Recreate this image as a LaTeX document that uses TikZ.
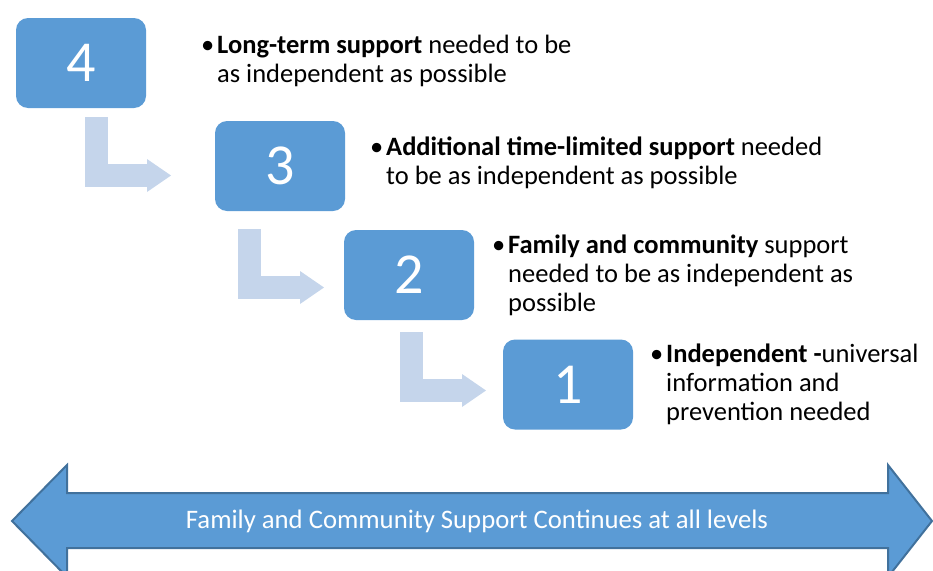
\documentclass[tikz,border=0pt]{standalone}
\usepackage{fontspec}
\setmainfont{Carlito}
\usetikzlibrary{arrows.meta, positioning}
\definecolor{boxblue}{HTML}{5B9BD5}
\definecolor{edgeblue}{HTML}{41719C}
\definecolor{paleblue}{HTML}{C5D5EB}

\begin{document}
\begin{tikzpicture}[x=1pt, y=-1pt, level/.style={rectangle, rounded corners=12pt, fill=boxblue, text=white, minimum width=130pt, minimum height=90pt, inner sep=0pt, font=\fontsize{58}{60}\selectfont}, desc/.style={anchor=north west, inner sep=0pt, align=left, font=\fontsize{26.5}{29}\selectfont}, bendarrow/.style={draw=paleblue, line width=23pt, -{Triangle[length=24pt, width=33pt, line width=0pt]}}, banner/.style={fill=boxblue, draw=edgeblue, line width=2pt}]
        \useasboundingbox (0,0) rectangle (933,570);
        \clip (0,0) rectangle (933,570);
        % the four levels
        \node[level] (b4) at (81,63) {4};
        \node[level] (b3) at (280,166) {3};
        \node[level] (b2) at (409,275) {2};
        \node[level] (b1) at (568,384.5) {1};
        % steps down from one level to the next
        \coordinate (s4) at (96.5,117);
        \coordinate (e3) at (171,175.5);
        \coordinate (s3) at (249.5,229);
        \coordinate (e2) at (324,287.5);
        \coordinate (s2) at (411.5,332);
        \coordinate (e1) at (486,390.5);
        \draw[bendarrow] (s4) |- (e3);
        \draw[bendarrow] (s3) |- (e2);
        \draw[bendarrow] (s2) |- (e1);
        % descriptions
        \node[desc] (t4) at (217,33) {\strut\llap{•\hspace{3pt}}\textbf{Long-term support} needed to be\\as independent as possible};
        \node[desc] (t3) at (386,135) {\strut\llap{•\hspace{3pt}}\textbf{Additional time-limited support} needed\\to be as independent as possible};
        \node[desc] (t2) at (508,233) {\strut\llap{•\hspace{3pt}}\textbf{Family and community} support\\needed to be as independent as\\possible};
        \node[desc] (t1) at (666,341.7) {\strut\llap{•\hspace{3pt}}\textbf{Independent -}universal\\information and\\prevention needed};
        % double arrow along the bottom
        \path[banner] (12,521) -- (67,465) -- (67,493) -- (888,493) -- (888,465) -- (932,521) -- (888,577) -- (888,548) -- (67,548) -- (67,577) -- cycle;
        \node[text=white, font=\fontsize{26.7}{30}\selectfont] (cont) at (477,521) {Family and Community Support Continues at all levels};
    \end{tikzpicture}
\end{document}
